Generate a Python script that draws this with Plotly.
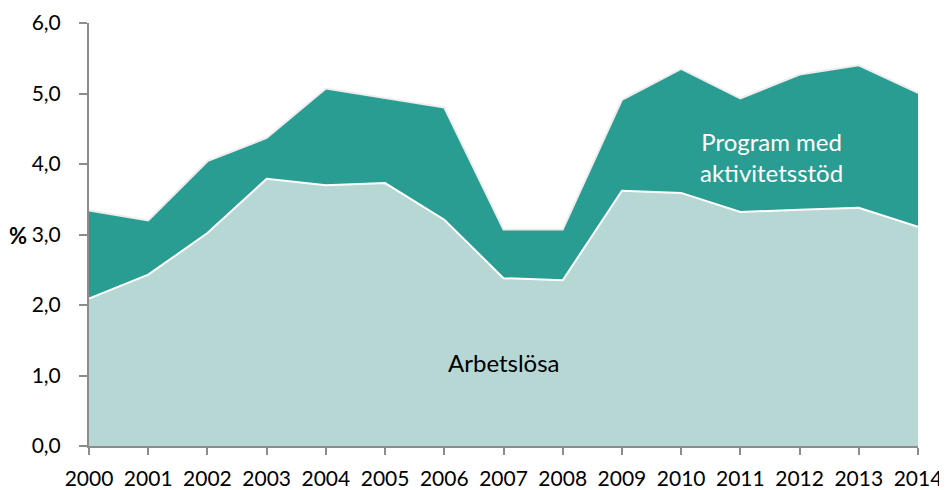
import plotly.graph_objects as go

years = list(range(2000, 2015))
arbetslosa = [2.09, 2.43, 3.02, 3.79, 3.70, 3.73, 3.21, 2.38, 2.35, 3.62, 3.59, 3.32, 3.35, 3.38, 3.11]
totalt = [3.34, 3.20, 4.04, 4.37, 5.07, 4.93, 4.80, 3.07, 3.07, 4.91, 5.35, 4.93, 5.27, 5.40, 5.01]
program = [round(t - a, 2) for t, a in zip(totalt, arbetslosa)]
y_ticks = [0, 1, 2, 3, 4, 5, 6]

FONT = "Lato, 'Open Sans', sans-serif"
# page body has an 8px default margin; figure size/margins compensate for it
OFF = 8
W, H = 947 - OFF, 490 - OFF
L, R, T, B = 89 - OFF, 29, 23 - OFF, 44

fig = go.Figure()
fig.add_trace(go.Scatter(
    x=years, y=arbetslosa, name="Arbetslösa", stackgroup="one", mode="lines",
    line=dict(color="white", width=2), fillcolor="#B7D7D5"))
fig.add_trace(go.Scatter(
    x=years, y=program, name="Program med aktivitetsstöd", stackgroup="one", mode="lines",
    line=dict(color="#EDEDED", width=2), fillcolor="#2A9D92"))

fig.update_layout(
    width=W, height=H,
    margin=dict(l=L, r=R, t=T, b=B, autoexpand=False),
    plot_bgcolor="white", paper_bgcolor="white",
    showlegend=False,
    separators=",.",
    font=dict(family=FONT, size=21, color="black"),
)
fig.update_xaxes(
    range=[2000, 2014], tickvals=years, ticktext=[str(y) for y in years],
    showgrid=False, showline=True, linecolor="#8C8C8C", linewidth=2,
    ticks="outside", ticklen=7, tickcolor="#8C8C8C", tickwidth=2,
    tickfont=dict(size=21, family=FONT), zeroline=False, automargin=False,
    ticklabelstandoff=6,
)
fig.update_yaxes(
    range=[0, 6], tickvals=y_ticks, tickformat=".1f",
    showgrid=False, showline=True, linecolor="#8C8C8C", linewidth=2,
    ticks="outside", ticklen=8, tickcolor="#8C8C8C", tickwidth=2,
    tickfont=dict(size=21, family=FONT), zeroline=False, automargin=False,
    ticklabelstandoff=14,
)

fig.add_annotation(x=2011.53, y=4.10, xref="x", yref="y",
                   text="Program med<br>aktivitetsstöd", showarrow=False,
                   xanchor="center", yanchor="middle",
                   font=dict(color="white", size=24, family=FONT), align="center")
fig.add_annotation(x=2007.0, y=1.18, xref="x", yref="y",
                   text="Arbetslösa", showarrow=False,
                   xanchor="center", yanchor="middle",
                   font=dict(color="black", size=24, family=FONT))
pw, ph = W - L - R, H - T - B
fig.add_annotation(x=(18 - OFF - L) / pw, y=(H - B - (236 - OFF)) / ph,
                   xref="paper", yref="paper", xanchor="center", yanchor="middle",
                   text="<b>%</b>", showarrow=False,
                   font=dict(color="black", size=22, family=FONT))

fig.write_html("out.html")
